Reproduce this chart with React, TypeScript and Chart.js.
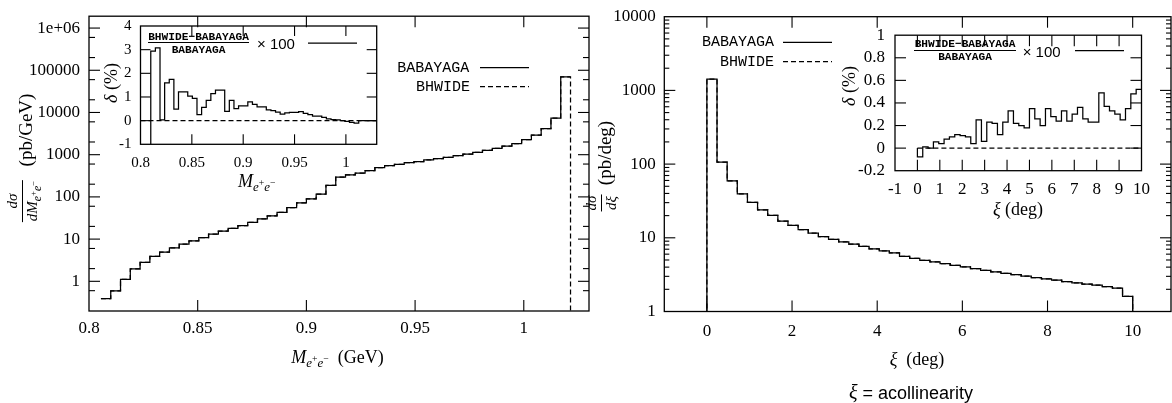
import React, { useEffect, useRef } from "react";
import { Chart, registerables } from "chart.js";
Chart.register(...registerables);

// ---------------- data ----------------
// invariant-mass histogram (48 bins)
const massBinStart = 0.8055;
const massBinWidth = 0.0045;
const babayagaMass = [0.39, 0.59, 1.11, 1.98, 2.8, 3.9, 4.9, 6.2, 7.6, 9.1, 10.9, 13.1, 15.4, 18, 21, 25, 30, 35.7, 43, 56, 72, 89.6, 117, 188, 294, 334, 365, 421, 496, 552, 593, 649, 685, 750, 805, 865, 947, 1036, 1133, 1262, 1406, 1597, 1840, 2285, 2890, 4140, 7360, 69800];
const bhwideMass = babayagaMass.slice(); // coincides with BABAYAGA at this resolution
// relative difference (%) on the same bins (first bin off scale, extra bins to the frame)
const deltaMass = [-3, 2.94, 3.08, 0.03, 1.6, 1.74, 0.49, 1.22, 1.22, 1.04, 0.94, 0.25, 0.56, 0.86, 1.14, 1.29, 1.29, 0.39, 0.86, 0.51, 0.62, 0.62, 0.79, 0.69, 0.58, 0.58, 0.46, 0.42, 0.36, 0.28, 0.33, 0.35, 0.35, 0.38, 0.31, 0.25, 0.19, 0.19, 0.14, 0.07, 0.04, 0.03, 0.0, -0.03, -0.07, -0.11, 0.0, 0.0, 0.0, 0.0];

// acollinearity histogram (42 bins from 0 to 10 deg)
const xiBinStart = 0;
const xiBinWidth = 10 / 42;
const babayagaXi = [1420, 106, 59, 39.5, 30.3, 23.9, 20.1, 16.8, 14.7, 12.9, 11.6, 10.4, 9.5, 8.8, 8.2, 7.65, 7.1, 6.65, 6.25, 5.6, 5.25, 4.95, 4.7, 4.45, 4.23, 4.02, 3.82, 3.62, 3.44, 3.3, 3.17, 3.01, 2.89, 2.77, 2.67, 2.55, 2.45, 2.35, 2.28, 2.18, 2.08, 1.6];
const bhwideXi = babayagaXi.slice();
const deltaXi = [-0.078, 0.01, 0.0, 0.055, 0.04, 0.08, 0.1, 0.12, 0.11, 0.1, 0.04, 0.25, 0.06, 0.23, 0.22, 0.12, 0.23, 0.33, 0.22, 0.2, 0.18, 0.35, 0.26, 0.2, 0.35, 0.28, 0.24, 0.33, 0.24, 0.3, 0.36, 0.26, 0.23, 0.23, 0.49, 0.37, 0.33, 0.3, 0.25, 0.35, 0.48, 0.52];

// ticks
const massTicks = [0.8, 0.85, 0.9, 0.95, 1];
const massTickLabels = ["0.8", "0.85", "0.9", "0.95", "1"];
const massLogTicks = [1, 10, 100, 1000, 10000, 100000, 1000000];
const massLogLabels = ["1", "10", "100", "1000", "10000", "100000", "1e+06"];
const massLogMinorMult = [2, 6];
const xiTicks = [0, 2, 4, 6, 8, 10];
const xiTickLabels = ["0", "2", "4", "6", "8", "10"];
const xiLogTicks = [1, 10, 100, 1000, 10000];
const xiLogLabels = ["1", "10", "100", "1000", "10000"];
const xiLogMinorMult = [2, 3, 4, 5, 6, 7, 8, 9];
const massInsetYTicks = [-1, 0, 1, 2, 3, 4];
const massInsetYLabels = ["-1", "0", "1", "2", "3", "4"];
const xiInsetXTicks = [-1, 0, 1, 2, 3, 4, 5, 6, 7, 8, 9, 10];
const xiInsetXLabels = ["-1", "0", "1", "2", "3", "4", "5", "6", "7", "8", "9", "10"];
const xiInsetYTicks = [-0.2, 0, 0.2, 0.4, 0.6, 0.8, 1];
const xiInsetYLabels = ["-0.2", "0", "0.2", "0.4", "0.6", "0.8", "1"];

// ---------------- helpers ----------------
const SERIF = '"Liberation Serif", "DejaVu Serif", serif';
const MONO = '"Liberation Mono", "DejaVu Sans Mono", monospace';
const SANS = '"Liberation Sans", Arial, sans-serif';
const INK = "#000";
const DASH = [5, 3];

type Pt = { x: number; y: number };
function edges(start: number, width: number, n: number): number[] {
  const e: number[] = [];
  for (let i = 0; i <= n; i++) e.push(start + i * width);
  return e;
}
function histPoints(ed: number[], vals: number[], rise?: number, fall?: number): Pt[] {
  const pts: Pt[] = [];
  if (rise !== undefined) pts.push({ x: ed[0], y: rise });
  vals.forEach((v, i) => pts.push({ x: ed[i], y: v }));
  pts.push({ x: ed[vals.length], y: vals[vals.length - 1] });
  if (fall !== undefined) pts.push({ x: ed[vals.length], y: fall });
  return pts;
}
function minorLog(mults: number[], lo: number, hi: number): number[] {
  const out: number[] = [];
  for (let d = Math.floor(Math.log10(lo)) - 1; d <= Math.ceil(Math.log10(hi)); d++) {
    mults.forEach((m) => {
      const v = m * Math.pow(10, d);
      if (v > lo && v < hi) out.push(v);
    });
  }
  return out;
}
const ds = (data: Pt[], dashed = false) => ({
  data,
  stepped: "before" as const,
  borderColor: INK,
  borderWidth: 1.25,
  borderDash: dashed ? DASH : [],
  pointRadius: 0,
  fill: false,
  tension: 0,
});

type Leg = { x1: number; x2: number; y: number; dashed: boolean };

const framePlugin = {
  id: "frame",
  afterDraw(chart: any, _a: any, o: any) {
    const { ctx, chartArea: a, scales } = chart;
    const xs = scales.x, ys = scales.y;
    ctx.save();
    ctx.strokeStyle = INK;
    ctx.lineWidth = 1.3;
    ctx.setLineDash([]);
    ctx.strokeRect(a.left, a.top, a.right - a.left, a.bottom - a.top);
    const seg = (x1: number, y1: number, x2: number, y2: number) => {
      ctx.beginPath();
      ctx.moveTo(x1, y1);
      ctx.lineTo(x2, y2);
      ctx.stroke();
    };
    ctx.lineWidth = 1.1;
    const tx = (v: number, len: number) => {
      const p = xs.getPixelForValue(v);
      if (p < a.left + 1 || p > a.right - 1) return;
      seg(p, a.bottom, p, a.bottom - len);
      seg(p, a.top, p, a.top + len);
    };
    const ty = (v: number, len: number) => {
      const p = ys.getPixelForValue(v);
      if (p < a.top + 1 || p > a.bottom - 1) return;
      seg(a.left, p, a.left + len, p);
      seg(a.right, p, a.right - len, p);
    };
    xs.ticks.forEach((t: any) => tx(t.value, o.major));
    ys.ticks.forEach((t: any) => ty(t.value, o.major));
    (o.yMinor || []).forEach((v: number) => ty(v, o.minor));
    (o.legend || []).forEach((l: Leg) => {
      ctx.lineWidth = 1.25;
      ctx.setLineDash(l.dashed ? DASH : []);
      seg(l.x1 - o.ox, l.y - o.oy, l.x2 - o.ox, l.y - o.oy);
    });
    ctx.restore();
  },
};

type Area = { l: number; t: number; r: number; b: number };
type Spec = {
  area: Area;
  datasets: any[];
  x: { min: number; max: number; ticks: number[]; labels: string[]; pad: number };
  y: { type: "linear" | "logarithmic"; min: number; max: number; ticks: number[]; labels: string[]; pad: number; minor?: number[] };
  font: number;
  major: number;
  minor: number;
  legend?: Leg[];
};

const PAD_L = 90, PAD_T = 16, PAD_R = 16, PAD_B = 40;

function ChartBox({ spec }: { spec: Spec }) {
  const ref = useRef<HTMLCanvasElement>(null);
  const { area } = spec;
  const left = Math.floor(area.l) - PAD_L;
  const top = Math.floor(area.t) - PAD_T;
  const width = Math.ceil(area.r) + PAD_R - left;
  const height = Math.ceil(area.b) + PAD_B - top;
  useEffect(() => {
    const yW = area.l - left;
    const xH = top + height - area.b;
    const font = { family: SERIF, size: spec.font };
    const chart = new Chart(ref.current as HTMLCanvasElement, {
      type: "line",
      data: { datasets: spec.datasets },
      plugins: [framePlugin],
      options: {
        animation: false,
        responsive: false,
        maintainAspectRatio: false,
        devicePixelRatio: 1,
        events: [],
        layout: { padding: { left: 0, top: area.t - top, right: left + width - area.r, bottom: 0 } },
        plugins: {
          legend: { display: false },
          tooltip: { enabled: false },
          frame: { major: spec.major, minor: spec.minor, yMinor: spec.y.minor, legend: spec.legend, ox: left, oy: top },
        } as any,
        scales: {
          x: {
            type: "linear",
            min: spec.x.min,
            max: spec.x.max,
            afterBuildTicks: (s: any) => {
              s.ticks = spec.x.ticks.map((v) => ({ value: v }));
            },
            afterFit: (s: any) => {
              s.height = xH;
            },
            ticks: {
              autoSkip: false,
              maxRotation: 0,
              minRotation: 0,
              padding: spec.x.pad,
              color: INK,
              font,
              callback: (_v: any, i: number) => spec.x.labels[i],
            },
            grid: { display: false, drawTicks: false },
            border: { display: false },
          },
          y: {
            type: spec.y.type,
            min: spec.y.min,
            max: spec.y.max,
            afterBuildTicks: (s: any) => {
              s.ticks = spec.y.ticks.map((v) => ({ value: v }));
            },
            afterFit: (s: any) => {
              s.width = yW;
            },
            ticks: {
              autoSkip: false,
              padding: spec.y.pad,
              color: INK,
              font,
              callback: (_v: any, i: number) => spec.y.labels[i],
            },
            grid: { display: false, drawTicks: false },
            border: { display: false },
          } as any,
        },
      },
    } as any);
    return () => chart.destroy();
  }, []);
  return <canvas ref={ref} width={width} height={height} style={{ position: "absolute", left, top, width, height }} />;
}

const T = ({ x, y, a = "c", rot = false, s = {}, children }: { x: number; y: number; a?: "l" | "c" | "r"; rot?: boolean; s?: React.CSSProperties; children: any }) => {
  const tx = a === "l" ? "0%" : a === "r" ? "-100%" : "-50%";
  return (
    <div style={{ position: "absolute", left: x, top: y, transform: `translate(${tx},-50%)${rot ? " rotate(-90deg)" : ""}`, whiteSpace: "nowrap", lineHeight: 1, color: INK, ...s }}>
      {children}
    </div>
  );
};

const supS: React.CSSProperties = { fontSize: "0.75em", position: "relative", top: "-0.5em" };
const EE = ({ k = 0.72 }: { k?: number }) => (
  <span style={{ fontSize: `${k}em`, position: "relative", top: "0.32em" }}>
    <i>e</i>
    <span style={supS}>+</span>
    <i>e</i>
    <span style={supS}>−</span>
  </span>
);
const Meek = () => (
  <span>
    <i>M</i>
    <EE />
  </span>
);

const Frac = ({ num, den, size }: { num: any; den: any; size: number }) => (
  <div style={{ display: "inline-flex", flexDirection: "column", alignItems: "center", fontFamily: SERIF, fontSize: size, lineHeight: 1 }}>
    <div style={{ padding: "0 1px 2px" }}>{num}</div>
    <div style={{ alignSelf: "stretch", borderTop: `1px solid ${INK}` }} />
    <div style={{ padding: "2px 1px 0" }}>{den}</div>
  </div>
);

// ---------------- layout ----------------
const massMainArea: Area = { l: 89, t: 13, r: 589, b: 311 };
const massInsetArea: Area = { l: 140.5, t: 24, r: 376.7, b: 144.3 };
const xiMainArea: Area = { l: 664.3, t: 14, r: 1171, b: 311.5 };
const xiInsetArea: Area = { l: 895, t: 31.7, r: 1142.5, b: 170.7 };

export default function App() {
  const mEd = edges(massBinStart, massBinWidth, babayagaMass.length);
  const mEdD = edges(massBinStart, massBinWidth, deltaMass.length);
  const xEd = edges(xiBinStart, xiBinWidth, babayagaXi.length);

  const massMain: Spec = {
    area: massMainArea,
    datasets: [ds(histPoints(mEd, babayagaMass)), ds(histPoints(mEd, bhwideMass, undefined, 1e-3), true)],
    x: { min: 0.8, max: 1.03, ticks: massTicks, labels: massTickLabels, pad: 7.5 },
    y: { type: "logarithmic", min: 0.198, max: 1.91e6, ticks: massLogTicks, labels: massLogLabels, pad: 9, minor: minorLog(massLogMinorMult, 0.198, 1.91e6) },
    font: 17,
    major: 11,
    minor: 6,
    legend: [
      { x1: 480, x2: 529, y: 67.7, dashed: false },
      { x1: 480, x2: 529, y: 86.7, dashed: true },
    ],
  };
  const massInset: Spec = {
    area: massInsetArea,
    datasets: [ds(histPoints(mEdD, deltaMass)), ds([{ x: 0.8, y: 0 }, { x: 1.03, y: 0 }], true)],
    x: { min: 0.8, max: 1.03, ticks: massTicks, labels: massTickLabels, pad: 9.5 },
    y: { type: "linear", min: -1, max: 4, ticks: massInsetYTicks, labels: massInsetYLabels, pad: 9 },
    font: 15,
    major: 10,
    minor: 5,
    legend: [{ x1: 308, x2: 357, y: 43, dashed: false }],
  };
  const xiMain: Spec = {
    area: xiMainArea,
    datasets: [ds(histPoints(xEd, babayagaXi, 1e-3, 1e-3)), ds(histPoints(xEd, bhwideXi, 1e-3, 1e-3), true)],
    x: { min: -1, max: 10.9, ticks: xiTicks, labels: xiTickLabels, pad: 9.5 },
    y: { type: "logarithmic", min: 1, max: 10000, ticks: xiLogTicks, labels: xiLogLabels, pad: 8.5, minor: minorLog(xiLogMinorMult, 1, 10000) },
    font: 17,
    major: 11,
    minor: 5,
    legend: [
      { x1: 783, x2: 832, y: 42.3, dashed: false },
      { x1: 783, x2: 832, y: 61.7, dashed: true },
    ],
  };
  const xiInset: Spec = {
    area: xiInsetArea,
    datasets: [ds(histPoints(xEd, deltaXi, 0)), ds([{ x: 0, y: 0 }, { x: 10, y: 0 }], true)],
    x: { min: -1, max: 10, ticks: xiInsetXTicks, labels: xiInsetXLabels, pad: 9 },
    y: { type: "linear", min: -0.2, max: 1, ticks: xiInsetYTicks, labels: xiInsetYLabels, pad: 10 },
    font: 17,
    major: 11,
    minor: 5,
    legend: [{ x1: 1075, x2: 1124, y: 50.7, dashed: false }],
  };

  const serif = { fontFamily: SERIF, fontSize: 18 };
  const mono = { fontFamily: MONO, fontSize: 15 };
  const fracMono: React.CSSProperties = { fontFamily: MONO, fontSize: 11.2, fontWeight: "bold" };

  return (
    <div style={{ position: "fixed", left: 0, top: 0, width: 1172, height: 403, overflow: "hidden", background: "#fff" }}>
      <ChartBox spec={massMain} />
      <ChartBox spec={massInset} />
      <ChartBox spec={xiMain} />
      <ChartBox spec={xiInset} />

      {/* left panel titles */}
      <T x={21.5} y={201} rot>
        <Frac size={15} num={<i>dσ</i>} den={<span><i>dM</i><EE k={0.78} /></span>} />
      </T>
      <T x={25} y={130} rot s={{ ...serif, fontSize: 19 }}>(pb/GeV)</T>
      <T x={337.5} y={357} s={serif}>
        <Meek />&nbsp;&nbsp;(GeV)
      </T>
      <T x={469.3} y={67.7} a="r" s={mono}>BABAYAGA</T>
      <T x={470} y={86.7} a="r" s={mono}>BHWIDE</T>

      {/* left inset titles */}
      <T x={111} y={83} rot s={serif}>
        <i>δ</i> (%)
      </T>
      <T x={256.7} y={181} s={serif}>
        <Meek />
      </T>
      <T x={198.5} y={37.5} s={fracMono}>BHWIDE−BABAYAGA</T>
      <div style={{ position: "absolute", left: 148, top: 42.2, width: 101, height: 0, borderTop: `1.3px solid ${INK}` }} />
      <T x={198.5} y={51} s={fracMono}>BABAYAGA</T>
      <T x={257} y={43.3} a="l" s={{ fontFamily: SANS, fontSize: 15 }}>× 100</T>

      {/* right panel titles */}
      <T x={601} y={203} rot>
        <Frac size={15} num={<i>dσ</i>} den={<i>dξ</i>} />
      </T>
      <T x={604} y={153} rot s={{ ...serif, fontSize: 19 }}>(pb/deg)</T>
      <T x={917} y={359} s={serif}>
        <i>ξ</i>&nbsp;&nbsp;(deg)
      </T>
      <T x={774} y={42.3} a="r" s={mono}>BABAYAGA</T>
      <T x={774} y={61.7} a="r" s={mono}>BHWIDE</T>

      {/* right inset titles */}
      <T x={849} y={86} rot s={serif}>
        <i>δ</i> (%)
      </T>
      <T x={1018} y={209} s={serif}>
        <i>ξ</i> (deg)
      </T>
      <T x={965} y={44.8} s={fracMono}>BHWIDE−BABAYAGA</T>
      <div style={{ position: "absolute", left: 914.3, top: 50.2, width: 101.4, height: 0, borderTop: `1.3px solid ${INK}` }} />
      <T x={965} y={57.5} s={fracMono}>BABAYAGA</T>
      <T x={1022.7} y={50.7} a="l" s={{ fontFamily: SANS, fontSize: 15 }}>× 100</T>

      {/* caption */}
      <T x={911} y={392} s={{ fontFamily: SANS, fontSize: 18 }}>
        <i style={{ fontFamily: SERIF, fontSize: 20 }}>ξ</i> = acollinearity
      </T>
    </div>
  );
}
